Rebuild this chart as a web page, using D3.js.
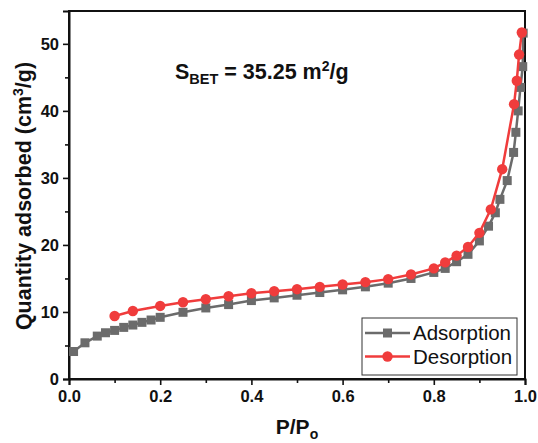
<!DOCTYPE html>
<html><head><meta charset="utf-8">
<script src="https://cdn.jsdelivr.net/npm/d3@7"></script>
<style>body{margin:0;background:#fff}svg{display:block}text{font-family:"Liberation Sans",Arial,sans-serif}</style>
</head><body><svg id="c" width="538" height="443"></svg>
<script>
const adsP = [0.010,0.035,0.062,0.080,0.100,0.120,0.140,0.160,0.180,0.200,0.250,0.300,0.350,0.400,0.450,0.500,0.550,0.600,0.650,0.700,0.750,0.800,0.825,0.850,0.875,0.900,0.920,0.935,0.945,0.961,0.975,0.980,0.985,0.990,0.995,0.996];
const adsV = [4.1,5.4,6.4,6.9,7.25,7.7,8.05,8.45,8.8,9.2,9.95,10.6,11.1,11.7,12.1,12.5,12.9,13.3,13.75,14.3,15.0,15.9,16.5,17.5,18.6,20.6,22.8,24.8,26.8,29.6,33.8,36.8,40.0,43.5,46.6,51.6];
const desP = [0.100,0.140,0.200,0.250,0.300,0.350,0.400,0.450,0.500,0.550,0.600,0.650,0.700,0.750,0.800,0.825,0.850,0.875,0.900,0.925,0.950,0.976,0.982,0.987,0.993];
const desV = [9.4,10.15,10.9,11.45,11.9,12.35,12.8,13.1,13.4,13.75,14.1,14.45,14.9,15.6,16.5,17.4,18.4,19.7,21.8,25.3,31.3,41.0,44.5,48.4,51.7];
const xTicks = [0,0.2,0.4,0.6,0.8,1.0];
const yTicks = [0,10,20,30,40,50];
const seriesNames = ["Adsorption","Desorption"];
const colors = ["#6b6b6b","#f03c3c"];

const svg = d3.select("#c");
const L=69, R=525, T=11, B=379;
const x = d3.scaleLinear().domain([0,1]).range([L,R]);
const y = d3.scaleLinear().domain([0,54.9]).range([B,T]);

svg.append("rect").attr("x",L).attr("y",T).attr("width",R-L).attr("height",B-T)
  .attr("fill","none").attr("stroke","#111").attr("stroke-width",2);

svg.append("g").attr("transform",`translate(0,${B})`)
  .call(d3.axisBottom(x).tickValues(xTicks).tickFormat(d3.format(".1f")).tickSize(6).tickPadding(5));
svg.append("g").attr("transform",`translate(0,${B})`)
  .call(d3.axisBottom(x).tickValues(d3.range(0.1,1,0.2)).tickFormat("").tickSize(4))
  .call(g=>g.select(".domain").remove());
svg.append("g").attr("transform",`translate(${L},0)`)
  .call(d3.axisLeft(y).tickValues(yTicks).tickSize(6).tickPadding(4));
svg.append("g").attr("transform",`translate(${L},0)`)
  .call(d3.axisLeft(y).tickValues(d3.range(5,55,10)).tickFormat("").tickSize(4))
  .call(g=>g.select(".domain").remove());
svg.selectAll(".domain").attr("stroke","#111").attr("stroke-width",2);
svg.selectAll(".tick line").attr("stroke","#111").attr("stroke-width",1.6);
svg.selectAll(".tick text").attr("font-size",16.5).attr("font-weight","bold").attr("fill","#111")
  .attr("font-family","Liberation Sans, Arial, sans-serif");

svg.append("text").attr("transform","translate(31,196) rotate(-90)").attr("text-anchor","middle")
  .attr("font-size",21.5).attr("font-weight","bold").attr("fill","#111")
  .html('Quantity adsorbed (cm<tspan dy="-8" font-size="14">3</tspan><tspan dy="8">/g)</tspan>');
svg.append("text").attr("x",297).attr("y",434).attr("text-anchor","middle")
  .attr("font-size",21).attr("font-weight","bold").attr("fill","#111")
  .html('P/P<tspan dy="5" font-size="14">o</tspan>');
svg.append("text").attr("x",175).attr("y",79)
  .attr("font-size",21.5).attr("font-weight","bold").attr("fill","#111")
  .html('S<tspan dy="5" font-size="14.5">BET</tspan><tspan dy="-5"> = 35.25 m</tspan><tspan dy="-8" font-size="14">2</tspan><tspan dy="8">/g</tspan>');

const sets = [[adsP,adsV],[desP,desV]];
const line = d3.line().x(d=>x(d[0])).y(d=>y(d[1]));
sets.forEach(([P,V],i)=>{
  const pts = P.map((p,j)=>[p,V[j]]);
  const g = svg.append("g");
  g.append("path").datum(pts).attr("d",line).attr("fill","none").attr("stroke",colors[i]).attr("stroke-width",2.5);
  if(i===0){
    g.selectAll("rect").data(pts).join("rect").attr("x",d=>x(d[0])-4.5).attr("y",d=>y(d[1])-4.5)
      .attr("width",9).attr("height",9).attr("fill",colors[i]);
  } else {
    g.selectAll("circle").data(pts).join("circle").attr("cx",d=>x(d[0])).attr("cy",d=>y(d[1]))
      .attr("r",5.2).attr("fill",colors[i]);
  }
});

const lg = svg.append("g");
lg.append("rect").attr("x",362).attr("y",318).attr("width",155).attr("height",57)
  .attr("fill","#fff").attr("stroke","#333").attr("stroke-width",1);
seriesNames.forEach((n,i)=>{
  const cy = 333+i*23.5;
  lg.append("line").attr("x1",365).attr("x2",410).attr("y1",cy).attr("y2",cy).attr("stroke",colors[i]).attr("stroke-width",2.5);
  if(i===0) lg.append("rect").attr("x",383).attr("y",cy-4.5).attr("width",9).attr("height",9).attr("fill",colors[i]);
  else lg.append("circle").attr("cx",387.5).attr("cy",cy).attr("r",5.2).attr("fill",colors[i]);
  lg.append("text").attr("x",413).attr("y",cy+7).attr("font-size",20.5).attr("fill","#111").text(n);
});
</script></body></html>
